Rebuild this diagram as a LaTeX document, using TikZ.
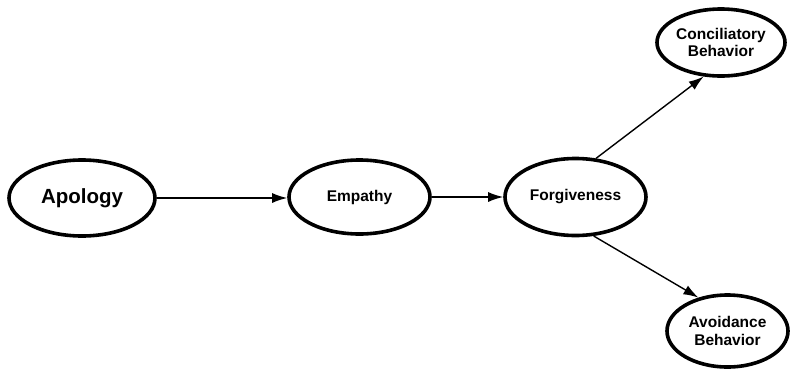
\documentclass[tikz,border=0pt]{standalone}
\usepackage{fontspec}
\setmainfont{Liberation Sans}
\usetikzlibrary{shapes.geometric,arrows.meta}
\begin{document}
\begin{tikzpicture}[x=1pt,y=-1pt,
  oval/.style={ellipse,draw,line width=3.6pt,inner sep=0pt,align=center,
    font=\bfseries\fontsize{15.5}{17.5}\selectfont},
  link/.style={line width=1.4pt,-{Latex[length=15pt,width=10pt]}}]
\useasboundingbox (0,0) rectangle (798,370);
\node[oval,minimum width=146pt,minimum height=76pt,font=\bfseries\fontsize{20.5}{24}\selectfont] (apo) at (82,198) {Apology};
\node[oval,minimum width=141pt,minimum height=74pt] (emp) at (359.5,197) {Empathy};
\node[oval,minimum width=141pt,minimum height=77pt] (for) at (575.5,197) {Forgiveness};
\node[oval,minimum width=128pt,minimum height=67pt] (con) at (721,42.5) {Conciliatory\\Behavior};
\node[oval,minimum width=121pt,minimum height=72pt] (avo) at (727.5,331) {Avoidance\\Behavior};
\draw[link] (apo.east) -- (apo.east -| emp.west);
\draw[link] (emp.east) -- (for.west);
\draw[link] (for.62) -- (con.243);
\draw[link] (for.295) -- (avo.131);
\end{tikzpicture}
\end{document}
